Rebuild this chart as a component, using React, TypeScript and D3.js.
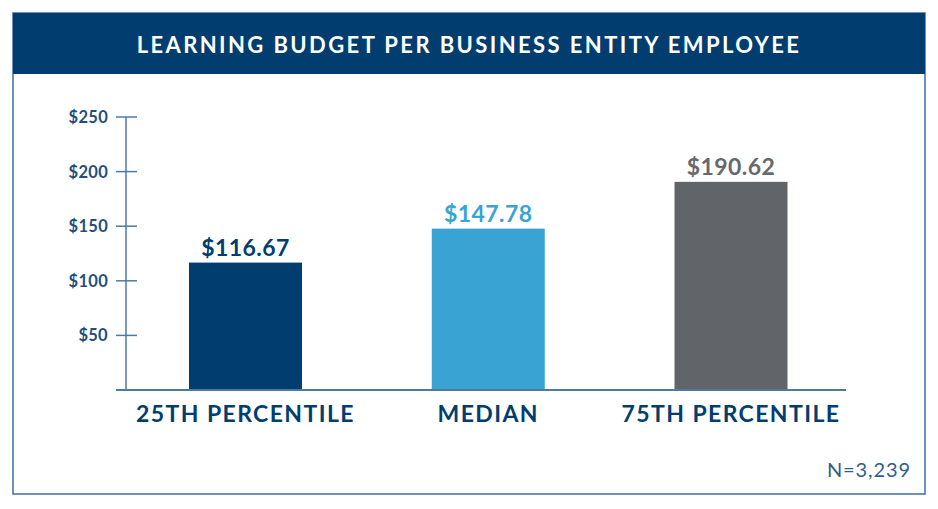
import React from "react";
import * as d3 from "d3";

const categories = ["25TH PERCENTILE", "MEDIAN", "75TH PERCENTILE"];
const values = [116.67, 147.78, 190.62];
const valueLabels = ["$116.67", "$147.78", "$190.62"];
const barColors = ["#023d6f", "#39a3d3", "#616569"];
const labelColors = ["#023d6f", "#39a3d3", "#65696c"];
const yTicks = [50, 100, 150, 200, 250];
const title = "LEARNING BUDGET PER BUSINESS ENTITY EMPLOYEE";
const note = "N=3,239";

const W = 938;
const H = 509;
const FONT = "Lato, 'Open Sans', sans-serif";

export default function App() {
  const x = d3
    .scaleBand<string>()
    .domain(categories)
    .range([125, 851.5])
    .paddingInner(0.5345)
    .paddingOuter(0.2636);
  const y = d3.scaleLinear().domain([0, 250]).range([390, 117]);
  const navy = "#023d6f";
  const axisColor = "#4d7aa3";

  return (
    <svg width={W} height={H} style={{ position: "absolute", left: 0, top: 0, background: "#fff" }}>
      {/* frame */}
      <rect x={13} y={13} width={912} height={481} fill="#fff" stroke="#3f6e9b" strokeWidth={1.5} />
      <rect x={13} y={13} width={912} height={61} fill={navy} />
      <text x={469} y={53} textAnchor="middle" fill="#fff" fontFamily={FONT} fontWeight={700} fontSize={22} letterSpacing={2.4}>
        {title}
      </text>

      {/* y axis */}
      <line x1={126} x2={126} y1={y(250)} y2={y(0)} stroke={axisColor} strokeWidth={1.5} />
      {yTicks.map((t) => (
        <g key={t}>
          <line x1={116} x2={137} y1={y(t)} y2={y(t)} stroke={axisColor} strokeWidth={1.5} />
          <text x={108} y={y(t) + 6} textAnchor="end" fill="#1f4f80" fontFamily={FONT} fontWeight={700} fontSize={16.5} letterSpacing={0.3}>
            {"$" + t}
          </text>
        </g>
      ))}

      {/* bars */}
      {categories.map((c, i) => (
        <g key={c}>
          <rect x={x(c)} y={y(values[i])} width={x.bandwidth()} height={y(0) - y(values[i])} fill={barColors[i]} />
          <text
            x={(x(c) as number) + x.bandwidth() / 2}
            y={y(values[i]) - 7}
            textAnchor="middle"
            fill={labelColors[i]}
            fontFamily={FONT}
            fontWeight={700}
            fontSize={23}
            letterSpacing={0.4}
          >
            {valueLabels[i]}
          </text>
          <text
            x={(x(c) as number) + x.bandwidth() / 2}
            y={422}
            textAnchor="middle"
            fill={navy}
            fontFamily={FONT}
            fontWeight={700}
            fontSize={23}
            letterSpacing={1.4}
          >
            {c}
          </text>
        </g>
      ))}

      {/* baseline */}
      <line x1={116} x2={846} y1={y(0)} y2={y(0)} stroke={axisColor} strokeWidth={2} />

      <text x={911} y={477} textAnchor="end" fill="#2f5e8c" fontFamily={FONT} fontSize={20} letterSpacing={0.9}>
        {note}
      </text>
    </svg>
  );
}
